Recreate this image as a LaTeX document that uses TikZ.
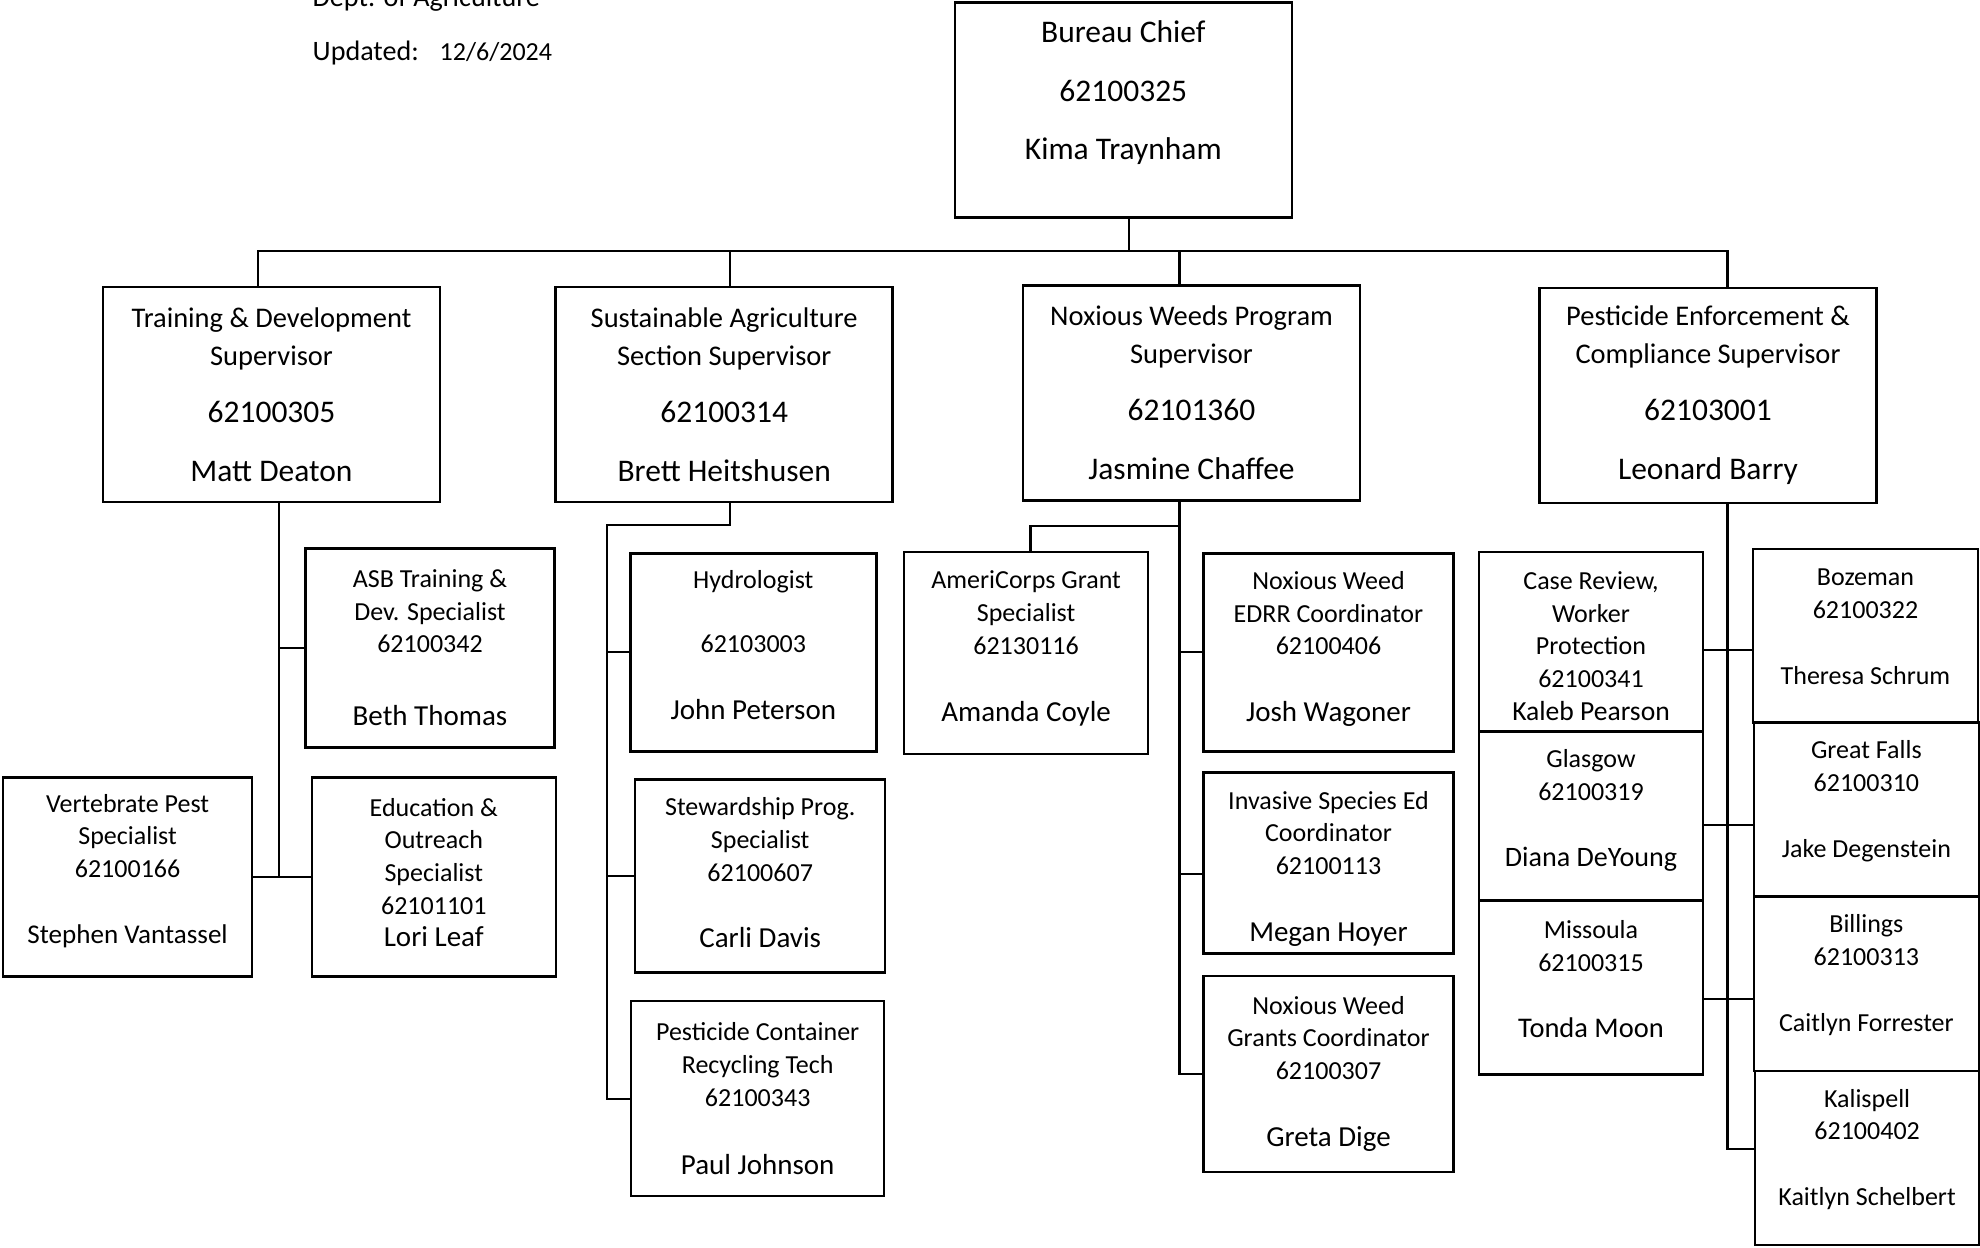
\documentclass[tikz,border=0pt]{standalone}
\usepackage{fontspec}
\setmainfont{Carlito}
\usetikzlibrary{calc, positioning}
\newcommand{\supnum}[1]{{\fontsize{8.96}{10.8}\selectfont #1}}
\newcommand{\nameln}[2][8.25]{{\fontsize{#1}{9.3}\selectfont #2}}
\newcommand{\liftby}[1]{\\[#1]\mbox{}} % empty last row: text moves up
\newcommand{\dropby}[1]{\mbox{}\\[#1]} % empty first row: text moves down

\begin{document}
\begin{tikzpicture}[x=1mm, y=-1mm,
                box/.style={draw, line width=0.7pt, inner sep=0pt, align=center},
                topbox/.style={box, minimum width=33.7mm, minimum height=21.5mm, font=\fontsize{8.96}{16.7}\selectfont},
                supbox/.style={box, minimum width=33.7mm, minimum height=21.5mm, font=\fontsize{8.1}{10.8}\selectfont},
                posbox/.style={box, font=\fontsize{7.4}{9.3}\selectfont},
                tdcol/.style={posbox, minimum width=24.9mm, minimum height=19.9mm},
                pecol/.style={posbox, minimum width=22.4mm, minimum height=17.4mm},
                link/.style={line width=0.6pt},
                hdr/.style={anchor=base west, inner sep=0pt}]

    \useasboundingbox (0,0) rectangle (198,124.8); % full page, y runs down

    \node [hdr, font=\fontsize{8}{9.6}\selectfont] (dept) at (31.2,0.7) {Dept. of Agriculture};
    \node [hdr, font=\fontsize{8}{9.6}\selectfont] (upd)  at (31.2,6.1) {Updated:};
    \node [hdr, font=\fontsize{7.4}{9}\selectfont] (date) at (43.9,6.1) {12/6/2024};

    \node [topbox] (chief) at (112.33,10.99) {Bureau Chief\\62100325\\Kima Traynham\liftby{-5.46pt}};

    % supervisors
    \node [supbox] (td) at (27.15,39.46)  {Training \& Development\\Supervisor\\[5.4pt]\supnum{62100305}\\[6.1pt]\supnum{Matt Deaton}};
    \node [supbox] (sa) at (72.42,39.46)  {Sustainable Agriculture\\Section Supervisor\\[5.4pt]\supnum{62100314}\\[6.1pt]\supnum{Brett Heitshusen}};
    \node [supbox] (nw) at (119.15,39.28) {Noxious Weeds Program\\Supervisor\\[5.4pt]\supnum{62101360}\\[6.1pt]\supnum{Jasmine Chaffee}};
    \node [supbox] (pe) at (170.80,39.53) {Pesticide Enforcement \&\\Compliance Supervisor\\[5.4pt]\supnum{62103001}\\[6.1pt]\supnum{Leonard Barry}};

    % training & development
    \node [tdcol] (asb)  at (43.00,64.79) {ASB Training \&\\Dev. Specialist\\62100342\\[11.5pt]\nameln{Beth Thomas}};
    \node [tdcol] (vert) at (12.76,87.70) {Vertebrate Pest\\Specialist\\62100166\\[9.5pt]\nameln[7.7]{Stephen Vantassel}\liftby{-4.72pt}};
    \node [tdcol, minimum width=24.4mm] (edu) at (43.38,87.70) {Education \&\\Outreach\\Specialist\\62101101\\\nameln{Lori Leaf}\liftby{-6.78pt}};

    % sustainable agriculture
    \node [posbox, minimum width=24.6mm, minimum height=19.8mm] (hyd)  at (75.33,65.23) {Hydrologist\\[9pt]62103003\\[9.8pt]\nameln{John Peterson}\liftby{-4.98pt}};
    \node [posbox, minimum width=25.0mm, minimum height=19.3mm] (stew) at (76.02,87.58) {Stewardship Prog.\\Specialist\\62100607\\[9.5pt]\nameln{Carli Davis}\liftby{-7.5pt}};
    \node [posbox, minimum width=25.3mm, minimum height=19.5mm] (pcr)  at (75.77,109.87) {Pesticide Container\\Recycling Tech\\62100343\\[10.2pt]\nameln{Paul Johnson}};

    % noxious weeds
    \node [posbox, minimum width=24.4mm, minimum height=20.2mm] (amc)    at (102.61,65.29) {AmeriCorps Grant\\Specialist\\62130116\\[9.8pt]\nameln{Amanda Coyle}\liftby{-5.34pt}};
    \node [posbox, minimum width=25.0mm, minimum height=19.8mm] (edrr)   at (132.85,65.23) {Noxious Weed\\EDRR Coordinator\\62100406\\[9.8pt]\nameln{Josh Wagoner}\liftby{-6.06pt}};
    \node [posbox, minimum width=25.0mm, minimum height=18.1mm] (inv)    at (132.85,86.31) {\dropby{-0.86pt}Invasive Species Ed\\Coordinator\\62100113\\[9.8pt]\nameln{Megan Hoyer}};
    \node [posbox, minimum width=25.0mm, minimum height=19.6mm] (grants) at (132.85,107.40) {Noxious Weed\\Grants Coordinator\\62100307\\[9.8pt]\nameln{Greta Dige}};

    % pesticide enforcement
    \node [pecol, minimum height=17.9mm] (case) at (159.10,64.15) {\dropby{-1.6pt}Case Review,\\Worker\\Protection\\62100341\\\nameln[7.85]{Kaleb Pearson}};
    \node [pecol, minimum height=16.9mm] (glas) at (159.10,81.58) {Glasgow\\62100319\\[9.5pt]\nameln[8]{Diana DeYoung}\liftby{-4.88pt}};
    \node [pecol]                        (miss) at (159.10,98.75) {Missoula\\62100315\\[9.5pt]\nameln[8.1]{Tonda Moon}\liftby{-4.63pt}};
    \node [pecol, minimum width=22.5mm]  (boz)  at (186.55,63.58) {Bozeman\\62100322\\[9.5pt]\nameln[7.4]{Theresa Schrum}\liftby{-4.27pt}};
    \node [pecol, minimum width=22.5mm]  (gf)   at (186.64,80.95) {Great Falls\\62100310\\[9.5pt]\nameln[7.4]{Jake Degenstein}\liftby{-3.29pt}};
    \node [pecol, minimum width=22.5mm]  (bil)  at (186.64,98.38) {Billings\\62100313\\[9.5pt]\nameln[7.4]{Caitlyn Forrester}\liftby{-3.29pt}};
    \node [pecol, minimum width=22.4mm]  (kal)  at (186.71,115.80) {Kalispell\\62100402\\[9.5pt]\nameln[7.4]{Kaitlyn Schelbert}\liftby{-3.29pt}};

    % top bar
    \coordinate (bar) at (112.89,25.13);
    \draw [link] (chief.south -| bar) -- (bar);
    \draw [link] ([xshift=-1.39mm]td.north) |- (bar) -| ([xshift=1.95mm]pe.north);
    \draw [link] ([xshift=0.57mm]sa.north) -- ([xshift=0.57mm]sa.north |- bar);
    \draw [link] ([xshift=-1.2mm]nw.north) -- ([xshift=-1.2mm]nw.north |- bar);

    \coordinate (tdl) at ([xshift=0.76mm]td.south);
    \draw [link] (tdl) -- (tdl |- edu.west);
    \draw [link] (vert.east) -- (edu.west);
    \draw [link] (asb.west) -- (asb.west -| tdl);

    \coordinate (sal) at ([xshift=0.57mm]sa.south);
    \coordinate (sasp) at (60.74,52.53);
    \draw [link] (sal) |- (sasp) |- (pcr.west);
    \draw [link] (hyd.west) -- (hyd.west -| sasp);
    \draw [link] (stew.west) -- (stew.west -| sasp);

    \coordinate (nwl) at ([xshift=-1.2mm]nw.south);
    \coordinate (nwsp) at (117.95,52.6);
    \draw [link] (nwl) |- (grants.west);
    \draw [link] ([xshift=0.44mm]amc.north) |- (nwsp);
    \draw [link] (edrr.west) -- (edrr.west -| nwl);
    \draw [link] ([yshift=-1.08mm]inv.west) -- ([yshift=-1.08mm]inv.west -| nwl);

    \coordinate (pel) at ([xshift=1.95mm]pe.south);
    \draw [link] (pel) |- ([yshift=0.89mm]kal.west);
    \draw [link] ([yshift=-0.88mm]case.east) -- ([yshift=-0.88mm]case.east -| boz.west);
    \draw [link] ([yshift=-0.88mm]glas.east) -- ([yshift=-0.88mm]glas.east -| gf.west);
    \draw [link] ([yshift=-1.14mm]miss.east) -- ([yshift=-1.14mm]miss.east -| bil.west);

\end{tikzpicture}
\end{document}
